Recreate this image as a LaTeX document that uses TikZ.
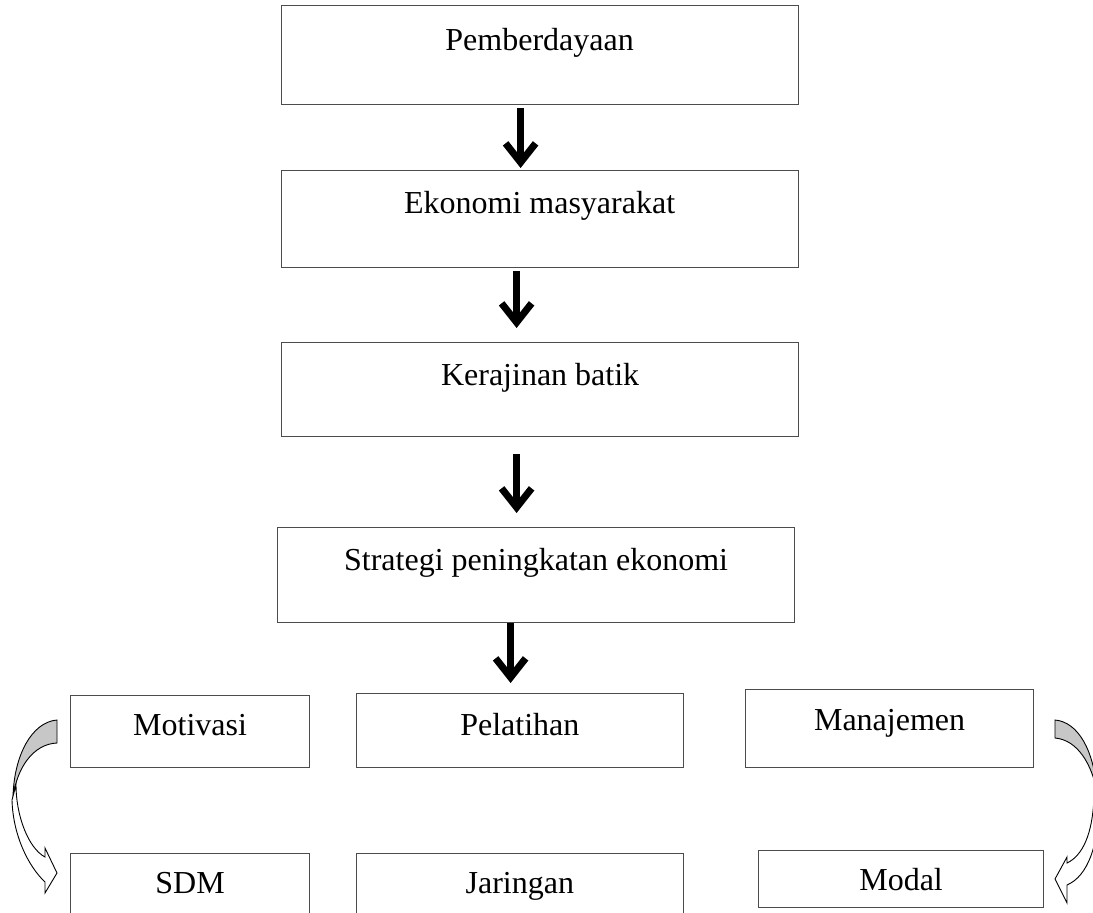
\documentclass[tikz,border=0pt]{standalone}
\usepackage{fontspec}
\setmainfont{Liberation Serif}
\usetikzlibrary{arrows.meta,calc}
\begin{document}
\begin{tikzpicture}[x=1pt,y=-1pt,
 box/.style={draw=black!70,line width=1.2pt,rectangle,inner sep=0pt,anchor=north west},
 lbl/.style={font=\fontsize{32}{36}\selectfont,anchor=base,inner sep=0pt},
 bigarrow/.style={line width=7pt,-{Straight Barb[length=19pt,width=30pt,sharp]}},
 curvearrow/.style={draw=black,line width=0.9pt,line join=miter},
 backfill/.style={fill=black!22},
]
\useasboundingbox (0,0) rectangle (1093,913);
% main column
\node[box,minimum width=517pt,minimum height=99pt] (b1) at (280.5,5) {};
\node[box,minimum width=517pt,minimum height=97pt] (b2) at (280.5,170) {};
\node[box,minimum width=517pt,minimum height=94pt] (b3) at (281,342) {};
\node[box,minimum width=517pt,minimum height=95pt] (b4) at (277,527) {};
\node[lbl] (t1) at ([yshift=-45pt]b1.north) {Pemberdayaan};
\node[lbl] (t2) at ([yshift=-43pt]b2.north) {Ekonomi masyarakat};
\node[lbl] (t3) at ([yshift=-43pt]b3.north) {Kerajinan batik};
\node[lbl] (t4) at ([yshift=-43pt]b4.north) {Strategi peningkatan ekonomi};
% second level
\node[box,minimum width=239pt,minimum height=72pt] (mo) at (70,695) {};
\node[box,minimum width=326.5pt,minimum height=74pt] (pe) at (356,693) {};
\node[box,minimum width=288pt,minimum height=78pt] (ma) at (745,689) {};
\node[lbl] (tmo) at ([yshift=-40pt]mo.north) {Motivasi};
\node[lbl] (tpe) at ([yshift=-42pt]pe.north) {Pelatihan};
\node[lbl] (tma) at ([yshift=-41pt]ma.north) {Manajemen};
% third level
\node[box,minimum width=239pt,minimum height=70pt] (sd) at (70,853) {};
\node[box,minimum width=326.5pt,minimum height=70pt] (ja) at (356,853) {};
\node[box,minimum width=285pt,minimum height=57pt] (mod) at (758,850) {};
\node[lbl] (tsd) at ([yshift=-40pt]sd.north) {SDM};
\node[lbl] (tja) at ([yshift=-40pt]ja.north) {Jaringan};
\node[lbl] (tmod) at ([yshift=-40pt]mod.north) {Modal};
% straight arrows
\coordinate (a1s) at ([xshift=-19pt]b1.south);
\draw[bigarrow,shorten <=3pt,shorten >=2pt] (a1s) -- (a1s |- b2.north);
\coordinate (a2s) at ([xshift=-23pt]b2.south);
\draw[bigarrow,shorten <=3pt,shorten >=14pt] (a2s) -- (a2s |- b3.north);
\coordinate (a3s) at ([xshift=-23.5pt]b3.south);
\draw[bigarrow,shorten <=17pt,shorten >=14pt] (a3s) -- (a3s |- b4.north);
\coordinate (a4s) at ([xshift=-25.5pt]b4.south);
\draw[bigarrow,shorten >=10pt] (a4s) -- (a4s |- pe.north);
% left curved arrow
\filldraw[curvearrow,backfill] (57,720) .. controls (32,722) and (14,755) .. (13,797)
  .. controls (17,768) and (33,744) .. (57,743) -- cycle;
\filldraw[curvearrow,fill=white] (16,785) .. controls (16,815) and (28,848) .. (45,857)
  -- (45,848) -- (57,873) -- (45,893) -- (45,882)
  .. controls (28,866) and (13,835) .. (12,800) -- cycle;
% right curved arrow
\filldraw[curvearrow,backfill] (1055,720) .. controls (1078,722) and (1094,750) .. (1097,792)
  .. controls (1092,765) and (1078,740) .. (1055,738) -- cycle;
\filldraw[curvearrow,fill=white] (1094,795) .. controls (1093,835) and (1082,856) .. (1067,863)
  -- (1067,857) -- (1055,879) -- (1067,903) -- (1067,885)
  .. controls (1088,876) and (1099,845) .. (1099,800) -- cycle;
\end{tikzpicture}
\end{document}
